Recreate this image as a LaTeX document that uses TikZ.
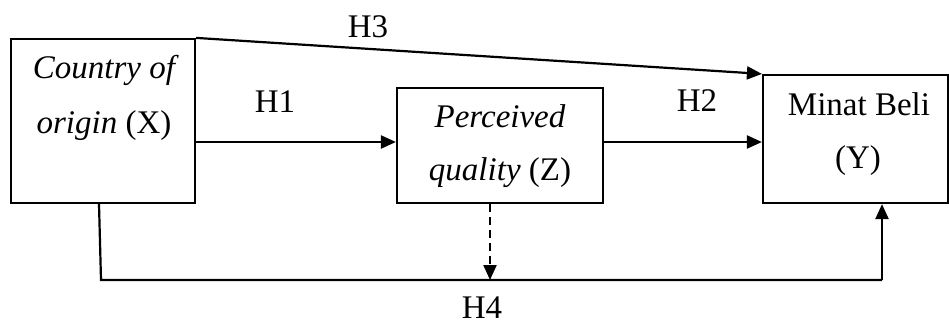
\documentclass[tikz,border=0pt]{standalone}
\usepackage{fontspec}
\setmainfont{Liberation Serif}
\usetikzlibrary{arrows.meta,calc}
\begin{document}
\begin{tikzpicture}[x=1pt,y=-1pt,
  box/.style={draw,line width=2.2pt,inner sep=0pt},
  lbl/.style={anchor=base,inner sep=0pt,font=\fontsize{33}{40}\selectfont},
  conn/.style={line width=2.2pt,-{Triangle[length=15pt,width=13pt]}},
  plain/.style={line width=2.2pt},
  dashconn/.style={line width=2.2pt,dash pattern=on 8pt off 5pt,-{Triangle[length=15pt,width=13pt]}}]
\useasboundingbox (0,0) rectangle (949,324);
% boxes
\node[box,minimum width=184pt,minimum height=164pt] (X) at (103,121) {};
\node[box,minimum width=206pt,minimum height=115pt] (Z) at (500,145.5) {};
\node[box,minimum width=185pt,minimum height=128pt] (Y) at (855.5,139) {};
% box texts
\node[lbl] (x1) at (104,78) {\itshape Country of};
\node[lbl] (x2) at (104,133) {\itshape origin\/\upshape{} (X)};
\node[lbl] (z1) at (500,127) {\itshape Perceived};
\node[lbl] (z2) at (500,180) {\itshape quality\/\upshape{} (Z)};
\node[lbl] (y1) at (859,115) {Minat Beli};
\node[lbl] (y2) at (858,168) {(Y)};
% connector labels
\node[lbl] (h3) at (368,37) {H3};
\node[lbl] (h1) at (275,112) {H1};
\node[lbl] (h2) at (697,111) {H2};
\node[lbl] (h4) at (482,318) {H4};
% helper coordinates
\coordinate (m) at (0,142);
\coordinate (b) at (0,280);
\coordinate (xa) at (99,0);
\coordinate (xb) at (101,0);
\coordinate (yv) at (882,0);
\coordinate (zd) at (490,0);
% connectors
\draw[conn] (X.north east) -- (Y.north west);
\draw[conn] (X.east |- m) -- (Z.west |- m);
\draw[conn] (Z.east |- m) -- (Y.west |- m);
\draw[plain] (xa |- X.south) -- (xb |- b) -- (yv |- b);
\draw[conn] (yv |- b) -- (yv |- Y.south);
\draw[dashconn] (zd |- Z.south) -- (zd |- b);
\end{tikzpicture}
\end{document}
